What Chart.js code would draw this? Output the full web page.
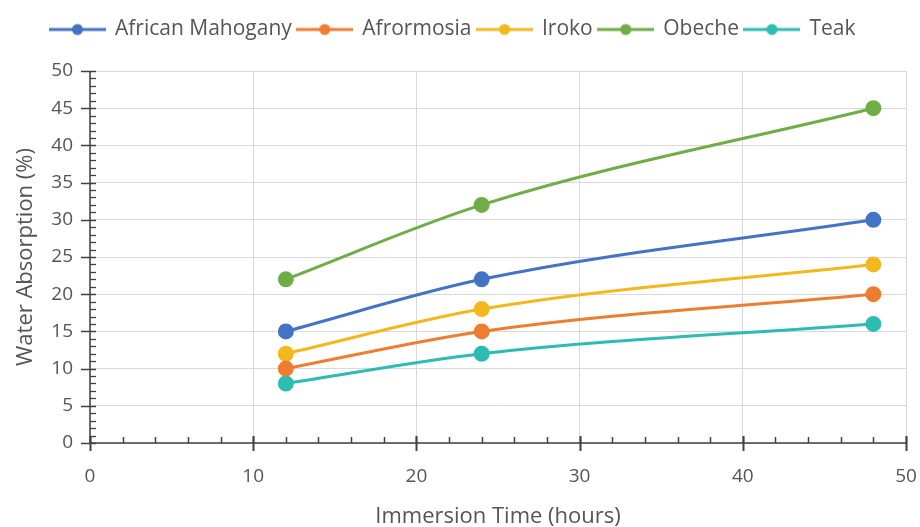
<!DOCTYPE html>
<html>
<head>
<meta charset="utf-8">
<script src="https://cdn.jsdelivr.net/npm/chart.js@4"></script>
<style>
  html, body { margin: 0; padding: 0; background: #fff; }
  #wrap { width: 920px; height: 527px; }
</style>
</head>
<body>
<div id="wrap"><canvas id="chart" width="920" height="527"></canvas></div>
<script>
/* data */
const hours = [12, 24, 48];
const seriesNames = ['African Mahogany', 'Afrormosia', 'Iroko', 'Obeche', 'Teak'];
const mahogany = [15, 22, 30];
const afrormosia = [10, 15, 20];
const iroko = [12, 18, 24];
const obeche = [22, 32, 45];
const teak = [8, 12, 16];
const seriesColors = ['#4472C4', '#ED7D31', '#F2B81D', '#70AD47', '#2DBBB2'];

const xTicks = [0, 10, 20, 30, 40, 50];
const yTicks = [0, 5, 10, 15, 20, 25, 30, 35, 40, 45, 50];

const textColor = '#555555';
const fontFamily = '"Open Sans", "Liberation Sans", sans-serif';

function toPoints(vals) {
    return hours.map((h, i) => ({ x: h, y: vals[i] }));
}

// little "line with a dot" picture for the legend
function legendMarker(color) {
    const c = document.createElement('canvas');
    c.width = 57;
    c.height = 14;
    const g = c.getContext('2d');
    g.strokeStyle = color;
    g.lineWidth = 3;
    g.beginPath();
    g.moveTo(0, 7);
    g.lineTo(57, 7);
    g.stroke();
    g.fillStyle = color;
    g.beginPath();
    g.arc(28.5, 7, 5.5, 0, Math.PI * 2);
    g.fill();
    return c;
}

const allValues = [mahogany, afrormosia, iroko, obeche, teak];

const datasets = allValues.map((vals, i) => ({
    label: seriesNames[i],
    data: toPoints(vals),
    borderColor: seriesColors[i],
    backgroundColor: seriesColors[i],
    pointBackgroundColor: seriesColors[i],
    pointBorderColor: seriesColors[i],
    borderWidth: 3,
    pointRadius: 6.5,
    pointHoverRadius: 6.5,
    cubicInterpolationMode: 'monotone',
    fill: false
}));

/* make room under the legend */
const legendGap = {
    id: 'legendGap',
    beforeInit(chart) {
        const fit = chart.legend.fit;
        chart.legend.fit = function () {
            fit.call(this);
            this.height = 58;
        };
    }
};

/* axis lines + major/minor tick marks */
const axisTicksPlugin = {
    id: 'axisTicks',
    afterDatasetsDraw(chart) {
        const ctx = chart.ctx;
        const xs = chart.scales.x;
        const ys = chart.scales.y;
        const area = chart.chartArea;
        ctx.save();
        ctx.strokeStyle = '#404040';
        ctx.lineWidth = 1.5;

        ctx.beginPath();
        ctx.moveTo(area.left, area.top);
        ctx.lineTo(area.left, area.bottom);
        ctx.lineTo(area.right, area.bottom);
        ctx.stroke();

        for (let v = 0; v <= 50; v++) {
            const py = Math.round(ys.getPixelForValue(v)) + 0.5;
            ctx.beginPath();
            if (v % 5 === 0) {
                ctx.lineWidth = 1.5;
                ctx.moveTo(area.left - 9, py);
                ctx.lineTo(area.left + 6, py);
            } else {
                ctx.lineWidth = 1.3;
                ctx.moveTo(area.left, py);
                ctx.lineTo(area.left + 6, py);
            }
            ctx.stroke();
        }

        for (let v = 0; v <= 50; v += 2) {
            const px = Math.round(xs.getPixelForValue(v)) + 0.5;
            ctx.beginPath();
            ctx.lineWidth = 1.5;
            ctx.moveTo(px, area.bottom - 6);
            ctx.lineTo(px, area.bottom);
            ctx.stroke();
        }
        for (let v = 0; v <= 50; v += 10) {
            const px = Math.round(xs.getPixelForValue(v)) + 0.5;
            ctx.beginPath();
            ctx.lineWidth = 2;
            ctx.moveTo(px, area.bottom - 7);
            ctx.lineTo(px, area.bottom + 8);
            ctx.stroke();
        }
        ctx.restore();
    }
};

new Chart(document.getElementById('chart').getContext('2d'), {
    type: 'line',
    data: { datasets: datasets },
    options: {
        responsive: false,
        animation: false,
        layout: { padding: { top: 13, right: 14, left: 0, bottom: 0 } },
        plugins: {
            legend: {
                position: 'top',
                labels: {
                    color: textColor,
                    font: { family: fontFamily, size: 21 },
                    usePointStyle: true,
                    pointStyleWidth: 54,
                    boxHeight: 14,
                    padding: 6,
                    generateLabels(chart) {
                        return chart.data.datasets.map((ds, i) => ({
                            text: ds.label,
                            fillStyle: ds.borderColor,
                            strokeStyle: ds.borderColor,
                            pointStyle: legendMarker(ds.borderColor),
                            lineWidth: 0,
                            hidden: false,
                            datasetIndex: i,
                            fontColor: textColor
                        }));
                    }
                }
            },
            tooltip: { enabled: false }
        },
        scales: {
            x: {
                type: 'linear',
                min: 0,
                max: 50,
                afterBuildTicks(scale) {
                    scale.ticks = xTicks.map(v => ({ value: v }));
                },
                afterFit(scale) {
                    scale.height = 84;
                    scale.paddingLeft = 0;
                    scale.paddingRight = 0;
                },
                grid: { color: '#D9D9D9', lineWidth: 1, drawTicks: false },
                border: { display: true, color: '#D9D9D9' },
                ticks: {
                    color: textColor,
                    font: { family: fontFamily, size: 19 },
                    padding: 22,
                    maxRotation: 0
                },
                title: {
                    display: true,
                    text: 'Immersion Time (hours)',
                    color: textColor,
                    font: { family: fontFamily, size: 22 },
                    padding: { top: 0, bottom: -3 }
                }
            },
            y: {
                min: 0,
                max: 50,
                afterBuildTicks(scale) {
                    scale.ticks = yTicks.map(v => ({ value: v }));
                },
                afterFit(scale) {
                    scale.width = 90;
                    scale.paddingTop = 0;
                    scale.paddingBottom = 0;
                },
                grid: { color: '#D9D9D9', lineWidth: 1, drawTicks: false },
                border: { display: true, color: '#D9D9D9' },
                ticks: {
                    color: textColor,
                    font: { family: fontFamily, size: 19 },
                    padding: 17
                },
                title: {
                    display: true,
                    text: 'Water Absorption (%)',
                    color: textColor,
                    font: { family: fontFamily, size: 22 },
                    padding: { top: 13, bottom: 0 }
                }
            }
        }
    },
    plugins: [legendGap, axisTicksPlugin]
});
</script>
</body>
</html>
